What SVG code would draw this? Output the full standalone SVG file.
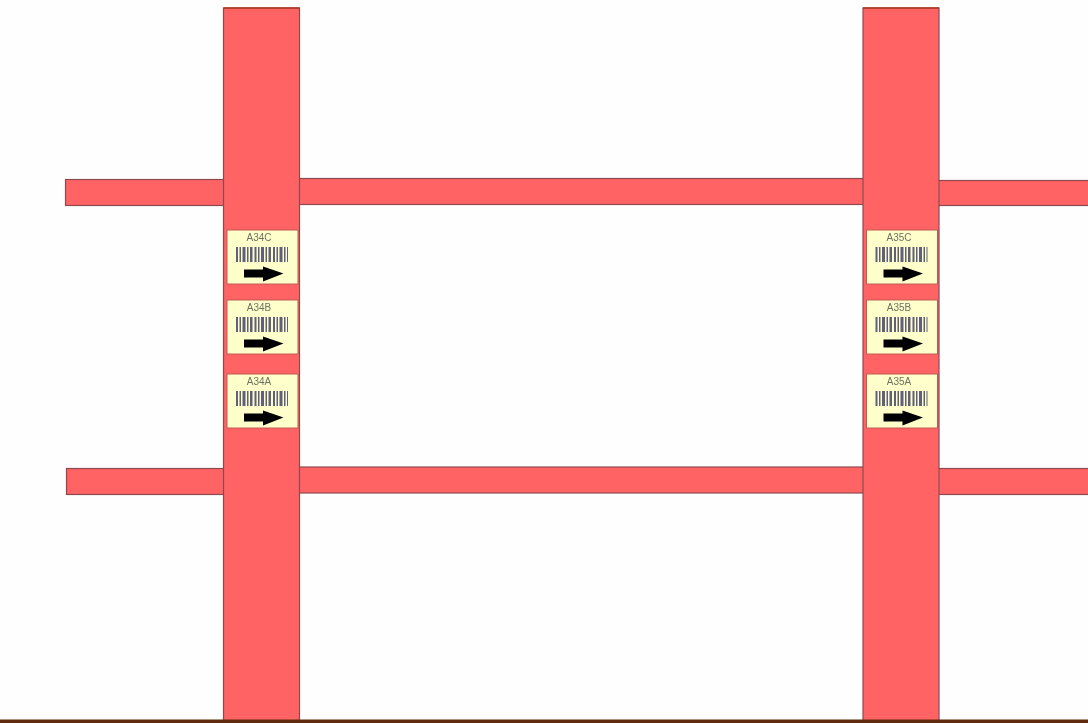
<svg xmlns="http://www.w3.org/2000/svg" width="1088" height="723" viewBox="0 0 1088 723">
<style>
.road{fill:#ff6464;stroke:#8c4a50;stroke-width:1.2}
.card{fill:#ffffcc;stroke:#c25a50;stroke-width:1}
.lbl{font-family:"Liberation Sans",Arial,sans-serif;font-size:10px;fill:#6e7260;text-anchor:middle}
.bar{fill:none;stroke:#60607a;stroke-width:15;stroke-dasharray:2 1.500 1.500 1.500 3 1.500 1.500 1.500 2.500 2}
</style>
<defs>
<filter id="soft" x="-5%" y="-5%" width="110%" height="110%"><feGaussianBlur stdDeviation="0.6"/></filter>
<g id="tag">
<rect class="card" x="0" y="0" width="71" height="54"/>
<path class="bar" d="M9 24.500H61"/>
<path d="M17 39.500H36V36.500L56.500 43.500L36 51.500V47.500H17Z" fill="#000"/>
</g>
</defs>
<rect width="1088" height="723" fill="#fefefe"/>
<g id="diagram" filter="url(#soft)">
<g id="connectors">
<rect class="road" x="65.500" y="179.500" width="160" height="26"/>
<rect class="road" x="298" y="178.500" width="566" height="26"/>
<rect class="road" x="937" y="180.500" width="152" height="25"/>
<rect class="road" x="66.500" y="468.500" width="159" height="26"/>
<rect class="road" x="298" y="467" width="566" height="26"/>
<rect class="road" x="937" y="468.500" width="152" height="26"/>
</g>
<g id="column-a34">
<rect class="road" x="223.500" y="8" width="76" height="713"/>
<path d="M223.500 8H299.500" stroke="#b03a20" stroke-width="1.500"/>
</g>
<g id="column-a35">
<rect class="road" x="863" y="8" width="76" height="713"/>
<path d="M863 8H939" stroke="#b03a20" stroke-width="1.500"/>
</g>
<g id="ground"><rect x="0" y="719.500" width="1088" height="3.500" fill="#5e2a0c"/></g>
<g id="A34C"><use href="#tag" x="227" y="230"/><text class="lbl" x="259" y="241">A34C</text></g>
<g id="A34B"><use href="#tag" x="227" y="300"/><text class="lbl" x="259" y="311">A34B</text></g>
<g id="A34A"><use href="#tag" x="227" y="374"/><text class="lbl" x="259" y="385">A34A</text></g>
<g id="A35C"><use href="#tag" x="866.500" y="230"/><text class="lbl" x="899" y="241">A35C</text></g>
<g id="A35B"><use href="#tag" x="866.500" y="300"/><text class="lbl" x="899" y="311">A35B</text></g>
<g id="A35A"><use href="#tag" x="866.500" y="374"/><text class="lbl" x="899" y="385">A35A</text></g>
</g>
</svg>
